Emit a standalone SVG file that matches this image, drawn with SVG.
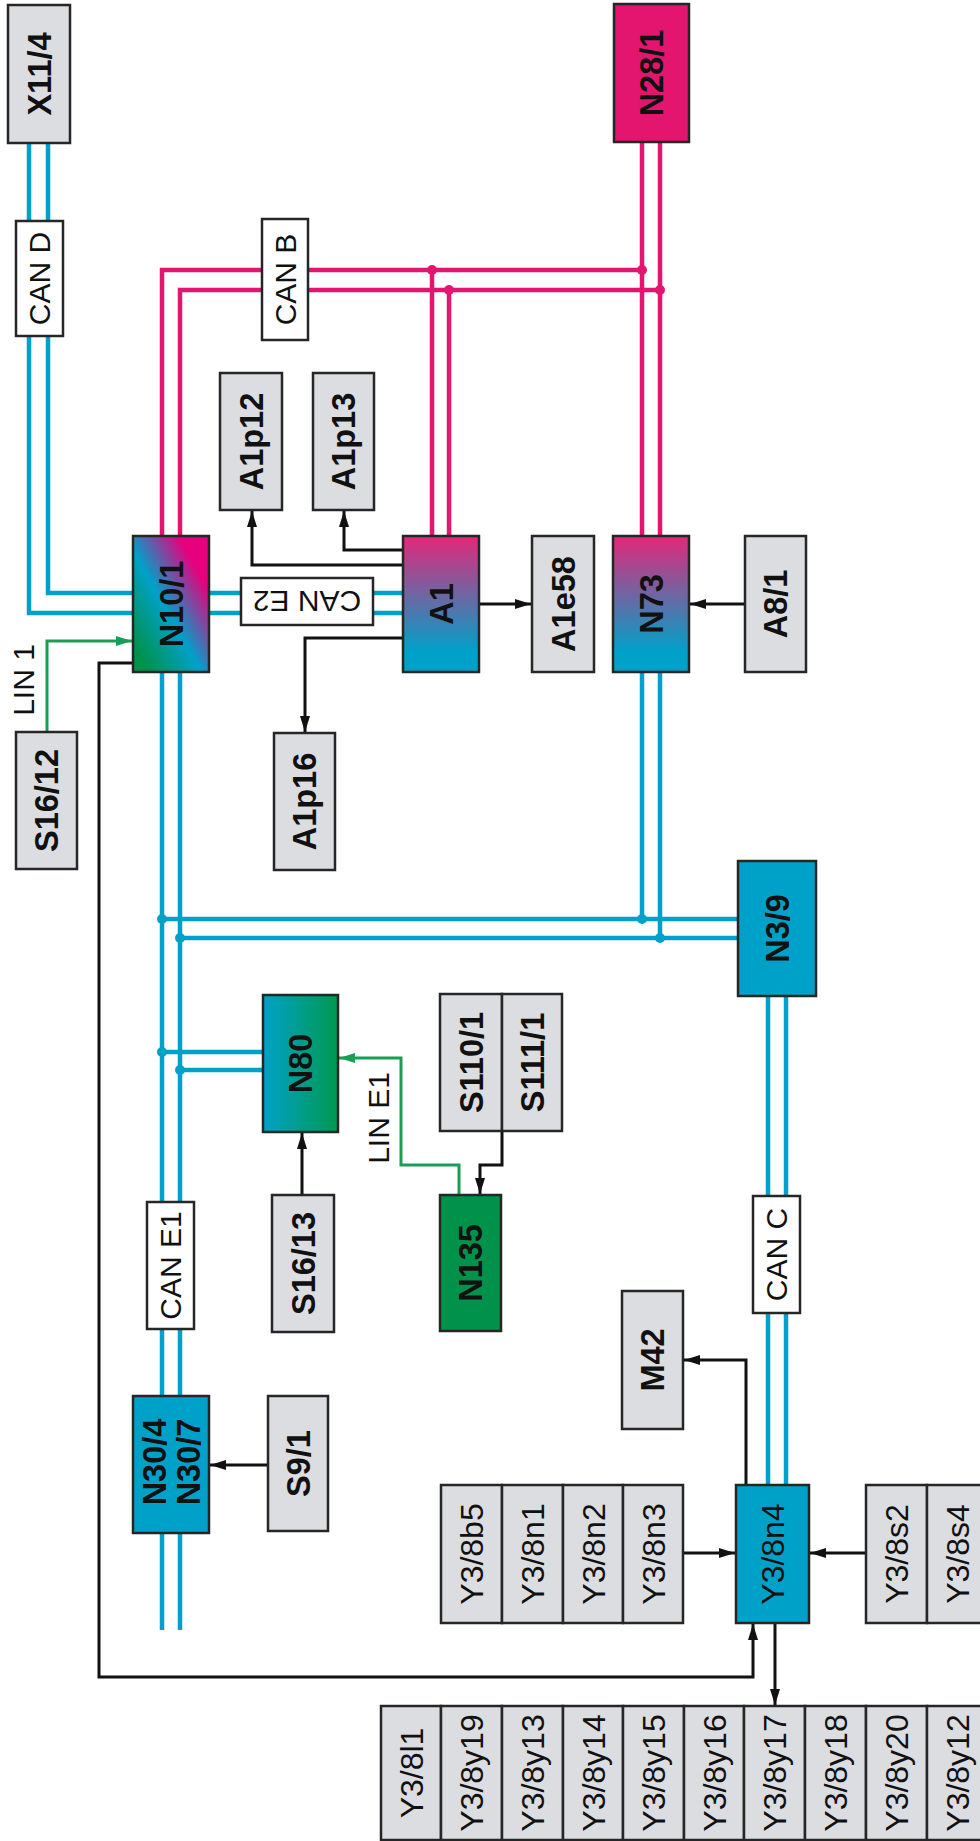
<svg xmlns="http://www.w3.org/2000/svg" width="980" height="1841" viewBox="0 0 980 1841">
<defs>
<style>
.box{stroke:#262626;stroke-width:2.5}
.gray{fill:#dcdde0}
.cyan{fill:#00a1c9}
.white{fill:#ffffff}
.t{font-family:"Liberation Sans",Arial,sans-serif;font-size:32.5px;fill:#111;text-anchor:middle}
.b{font-weight:bold}
.r{font-weight:normal;font-size:32px}
.lbl{font-family:"Liberation Sans",Arial,sans-serif;font-size:30px;fill:#111;text-anchor:middle}
.bl{fill:none;stroke:#00a1c9;stroke-width:4.5}
.pk{fill:none;stroke:#e3156f;stroke-width:4.5}
.bk{fill:none;stroke:#111;stroke-width:3;marker-end:url(#ah)}
.gr{fill:none;stroke:#1a9e55;stroke-width:3;marker-end:url(#ahg)}
</style>
<marker id="ah" viewBox="0 0 16 10" refX="16" refY="5" markerWidth="16" markerHeight="11" markerUnits="userSpaceOnUse" orient="auto"><path d="M0,0 L16,5 L0,10 z" fill="#111"/></marker>
<marker id="ahg" viewBox="0 0 16 10" refX="16" refY="5" markerWidth="16" markerHeight="11" markerUnits="userSpaceOnUse" orient="auto"><path d="M0,0 L16,5 L0,10 z" fill="#1a9e55"/></marker>
<linearGradient id="gN10" x1="1" y1="0" x2="0" y2="1">
<stop offset="0.2" stop-color="#e6007e"/>
<stop offset="0.55" stop-color="#00a1c9"/>
<stop offset="0.9" stop-color="#00914a"/>
</linearGradient>
<linearGradient id="gPC" x1="0" y1="0" x2="0" y2="1">
<stop offset="0" stop-color="#e2287a"/>
<stop offset="0.85" stop-color="#00a1c9"/>
</linearGradient>
<linearGradient id="gN80" x1="0" y1="0" x2="1" y2="0">
<stop offset="0" stop-color="#00a1c9"/>
<stop offset="1" stop-color="#00994f"/>
</linearGradient>
</defs>
<rect width="980" height="1841" fill="#ffffff"/>

<g id="connectors">
<path class="pk" d="M162,536 V270 H642"/>
<path class="pk" d="M180,536 V290 H660"/>
<path class="pk" d="M642,142 V536"/>
<path class="pk" d="M660,142 V536"/>
<path class="pk" d="M432,270 V536"/>
<path class="pk" d="M449,290 V536"/>
<g fill="#e3156f">
<circle cx="432" cy="270" r="5"/><circle cx="449" cy="290" r="5"/>
<circle cx="642" cy="270" r="5"/><circle cx="660" cy="290" r="5"/>
</g>
<path class="bl" d="M29,143 V613 H133"/>
<path class="bl" d="M48,143 V593 H133"/>
<path class="bl" d="M209,593 H403"/>
<path class="bl" d="M209,613 H403"/>
<path class="bl" d="M162,672 V1630"/>
<path class="bl" d="M180,672 V1630"/>
<path class="bl" d="M642,672 V919"/>
<path class="bl" d="M660,672 V938"/>
<path class="bl" d="M162,919 H738"/>
<path class="bl" d="M180,938 H738"/>
<path class="bl" d="M162,1052 H263"/>
<path class="bl" d="M180,1070 H263"/>
<path class="bl" d="M768,996 V1485"/>
<path class="bl" d="M786,996 V1485"/>
<g fill="#00a1c9">
<circle cx="162" cy="919" r="5"/><circle cx="180" cy="938" r="5"/>
<circle cx="642" cy="919" r="5"/><circle cx="660" cy="938" r="5"/>
<circle cx="162" cy="1052" r="5"/><circle cx="180" cy="1070" r="5"/>
</g>
<path class="bk" d="M403,550 H344 V511"/>
<path class="bk" d="M403,565 H252 V511"/>
<path class="bk" d="M403,638 H305 V732"/>
<path class="bk" d="M479,604 H531"/>
<path class="bk" d="M745,604 H690"/>
<path class="bk" d="M133,663 H99 V1677 H753 V1624"/>
<path class="bk" d="M302,1195 V1133"/>
<path class="bk" d="M268,1465 H210"/>
<path class="bk" d="M502,1131 V1165 H480 V1194"/>
<path class="bk" d="M746,1485 V1360 H684"/>
<path class="bk" d="M683,1553 H735"/>
<path class="bk" d="M866,1553 H810"/>
<path class="bk" d="M775,1623 V1705"/>
<path class="gr" d="M47,732 V641 H132"/>
<path class="gr" d="M459,1195 V1165 H401 V1058 H339"/>
<text class="lbl" transform="translate(23,680) rotate(-90)" dy="0.36em">LIN 1</text>
<text class="lbl" transform="translate(378,1118) rotate(-90)" dy="0.36em">LIN E1</text>
</g>

<g id="CAN_D"><rect class="box white" x="16" y="221" width="47" height="115"/><text class="lbl" transform="translate(39.5,278.5) rotate(-90)" dy="0.36em">CAN D</text></g>
<g id="CAN_B"><rect class="box white" x="262" y="219" width="46" height="121"/><text class="lbl" transform="translate(285,279.5) rotate(-90)" dy="0.36em">CAN B</text></g>
<g id="CAN_E2"><rect class="box white" x="241" y="578" width="132" height="47"/><text class="lbl" transform="translate(307,601.5) rotate(180)" dy="0.36em">CAN E2</text></g>
<g id="CAN_E1"><rect class="box white" x="147" y="1202" width="47" height="127"/><text class="lbl" transform="translate(170.5,1265.5) rotate(-90)" dy="0.36em">CAN E1</text></g>
<g id="CAN_C"><rect class="box white" x="753" y="1196" width="47" height="117"/><text class="lbl" transform="translate(776.5,1254.5) rotate(-90)" dy="0.36em">CAN C</text></g>

<g id="X11_4"><rect class="box gray" x="8" y="5" width="62" height="138"/><text class="t b" transform="translate(39,74) rotate(-90)" dy="0.36em">X11/4</text></g>
<g id="N28_1"><rect class="box" fill="#e3156f" x="614" y="4" width="75" height="138"/><text class="t b" transform="translate(651.5,73) rotate(-90)" dy="0.36em">N28/1</text></g>
<g id="A1p12"><rect class="box gray" x="220" y="373" width="62" height="137"/><text class="t b" transform="translate(251,441.5) rotate(-90)" dy="0.36em">A1p12</text></g>
<g id="A1p13"><rect class="box gray" x="313" y="373" width="61" height="137"/><text class="t b" transform="translate(343.5,441.5) rotate(-90)" dy="0.36em">A1p13</text></g>
<g id="N10_1"><rect class="box" fill="url(#gN10)" x="133" y="536" width="76" height="136"/><text class="t b" transform="translate(171,604) rotate(-90)" dy="0.36em">N10/1</text></g>
<g id="A1"><rect class="box" fill="url(#gPC)" x="403" y="536" width="76" height="136"/><text class="t b" transform="translate(441,604) rotate(-90)" dy="0.36em">A1</text></g>
<g id="A1e58"><rect class="box gray" x="532" y="536" width="62" height="136"/><text class="t b" transform="translate(563,604) rotate(-90)" dy="0.36em">A1e58</text></g>
<g id="N73"><rect class="box" fill="url(#gPC)" x="613" y="536" width="76" height="136"/><text class="t b" transform="translate(651,604) rotate(-90)" dy="0.36em">N73</text></g>
<g id="A8_1"><rect class="box gray" x="745" y="536" width="61" height="136"/><text class="t b" transform="translate(775.5,604) rotate(-90)" dy="0.36em">A8/1</text></g>
<g id="S16_12"><rect class="box gray" x="16" y="732" width="61" height="137"/><text class="t b" transform="translate(46.5,800.5) rotate(-90)" dy="0.36em">S16/12</text></g>
<g id="A1p16"><rect class="box gray" x="274" y="733" width="61" height="137"/><text class="t b" transform="translate(304.5,801.5) rotate(-90)" dy="0.36em">A1p16</text></g>
<g id="N3_9"><rect class="box cyan" x="738" y="861" width="78" height="135"/><text class="t b" transform="translate(777,928.5) rotate(-90)" dy="0.36em">N3/9</text></g>
<g id="N80"><rect class="box" fill="url(#gN80)" x="263" y="995" width="75" height="137"/><text class="t b" transform="translate(300.5,1063.5) rotate(-90)" dy="0.36em">N80</text></g>
<g id="S110_S111"><rect class="box gray" x="440" y="994" width="62" height="137"/><rect class="box gray" x="502" y="994" width="60" height="137"/><text class="t b" transform="translate(471,1062.5) rotate(-90)" dy="0.36em">S110/1</text><text class="t b" transform="translate(532,1062.5) rotate(-90)" dy="0.36em">S111/1</text></g>
<g id="S16_13"><rect class="box gray" x="272" y="1195" width="62" height="137"/><text class="t b" transform="translate(303,1263.5) rotate(-90)" dy="0.36em">S16/13</text></g>
<g id="N135"><rect class="box" fill="#00924a" x="440" y="1195" width="61" height="136"/><text class="t b" transform="translate(470.5,1263) rotate(-90)" dy="0.36em">N135</text></g>
<g id="M42"><rect class="box gray" x="622" y="1291" width="61" height="138"/><text class="t b" transform="translate(652.5,1360) rotate(-90)" dy="0.36em">M42</text></g>
<g id="N30"><rect class="box cyan" x="133" y="1396" width="76" height="137"/><text class="t b" transform="translate(154,1462) rotate(-90)" dy="0.36em">N30/4</text><text class="t b" transform="translate(188,1462) rotate(-90)" dy="0.36em">N30/7</text></g>
<g id="S9_1"><rect class="box gray" x="268" y="1396" width="60" height="135"/><text class="t b" transform="translate(298,1463.5) rotate(-90)" dy="0.36em">S9/1</text></g>
<g id="Y3_8n4"><rect class="box cyan" x="736" y="1485" width="73" height="138"/><text class="t r" transform="translate(772.5,1554) rotate(-90)" dy="0.36em">Y3/8n4</text></g>
<g id="Y3_8inputs">
<rect class="box gray" x="441" y="1485" width="61" height="138"/><text class="t r" transform="translate(471.5,1554) rotate(-90)" dy="0.36em">Y3/8b5</text>
<rect class="box gray" x="502" y="1485" width="61" height="138"/><text class="t r" transform="translate(532.5,1554) rotate(-90)" dy="0.36em">Y3/8n1</text>
<rect class="box gray" x="563" y="1485" width="60" height="138"/><text class="t r" transform="translate(593,1554) rotate(-90)" dy="0.36em">Y3/8n2</text>
<rect class="box gray" x="623" y="1485" width="60" height="138"/><text class="t r" transform="translate(653,1554) rotate(-90)" dy="0.36em">Y3/8n3</text>
</g>
<g id="Y3_8sensors">
<rect class="box gray" x="866" y="1485" width="61" height="138"/><text class="t r" transform="translate(896.5,1554) rotate(-90)" dy="0.36em">Y3/8s2</text>
<rect class="box gray" x="927" y="1485" width="61" height="138"/><text class="t r" transform="translate(957.5,1554) rotate(-90)" dy="0.36em">Y3/8s4</text>
</g>
<g id="Y3_8outputs">
<rect class="box gray" x="381" y="1706" width="60" height="134"/><text class="t r" transform="translate(411,1773) rotate(-90)" dy="0.36em">Y3/8l1</text>
<rect class="box gray" x="441" y="1706" width="61" height="134"/><text class="t r" transform="translate(471.5,1773) rotate(-90)" dy="0.36em">Y3/8y19</text>
<rect class="box gray" x="502" y="1706" width="61" height="134"/><text class="t r" transform="translate(532.5,1773) rotate(-90)" dy="0.36em">Y3/8y13</text>
<rect class="box gray" x="563" y="1706" width="60" height="134"/><text class="t r" transform="translate(593,1773) rotate(-90)" dy="0.36em">Y3/8y14</text>
<rect class="box gray" x="623" y="1706" width="61" height="134"/><text class="t r" transform="translate(653.5,1773) rotate(-90)" dy="0.36em">Y3/8y15</text>
<rect class="box gray" x="684" y="1706" width="60" height="134"/><text class="t r" transform="translate(714,1773) rotate(-90)" dy="0.36em">Y3/8y16</text>
<rect class="box gray" x="744" y="1706" width="61" height="134"/><text class="t r" transform="translate(774.5,1773) rotate(-90)" dy="0.36em">Y3/8y17</text>
<rect class="box gray" x="805" y="1706" width="61" height="134"/><text class="t r" transform="translate(835.5,1773) rotate(-90)" dy="0.36em">Y3/8y18</text>
<rect class="box gray" x="866" y="1706" width="61" height="134"/><text class="t r" transform="translate(896.5,1773) rotate(-90)" dy="0.36em">Y3/8y20</text>
<rect class="box gray" x="927" y="1706" width="61" height="134"/><text class="t r" transform="translate(957.5,1773) rotate(-90)" dy="0.36em">Y3/8y12</text>
</g>
</svg>
